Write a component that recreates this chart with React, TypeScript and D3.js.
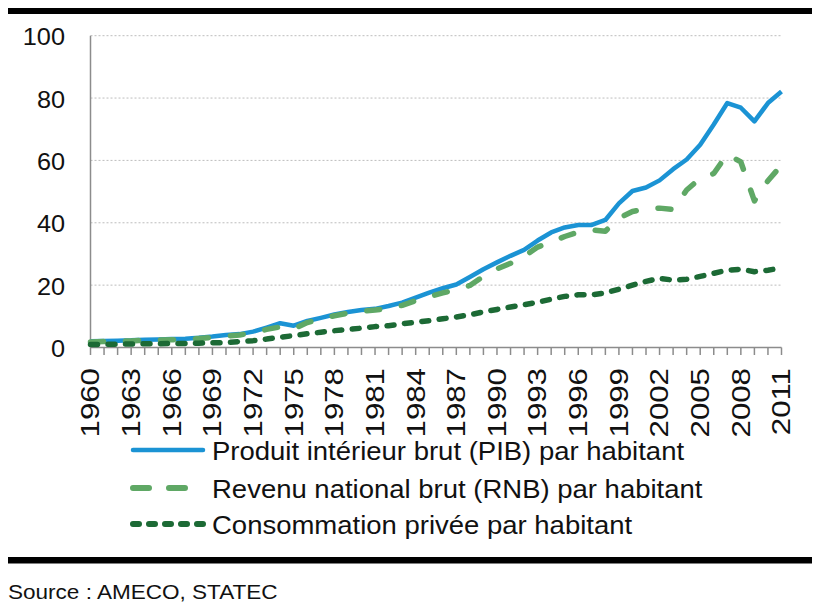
import * as d3 from "d3";

const W = 820;
const H = 612;

// one point per year, 1960-2011
const YEARS = d3.range(1960, 2012);

const PIB = [
  2.0, 2.1, 2.2, 2.3, 2.5, 2.6, 2.7, 2.8, 3.1, 3.5,
  4.0, 4.3, 5.1, 6.4, 7.8, 7.0, 8.5, 9.5, 10.6, 11.4,
  12.0, 12.4, 13.3, 14.4, 16.0, 17.6, 19.0, 20.2, 22.6, 25.1,
  27.3, 29.4, 31.3, 34.3, 36.9, 38.5, 39.3, 39.3, 40.9, 46.2,
  50.2, 51.3, 53.6, 57.2, 60.3, 65.0, 71.5, 78.4, 76.9, 72.5,
  78.4, 82.1,
];

const RNB = [
  1.8, 1.9, 2.0, 2.1, 2.3, 2.4, 2.5, 2.6, 2.9, 3.2,
  3.7, 4.0, 4.8, 5.8, 6.6, 6.0, 8.0, 9.2, 10.2, 11.0,
  11.6, 12.0, 12.6, 13.5, 15.0, 16.3, 17.5, 18.6, 19.9, 22.8,
  25.2, 27.0, 29.2, 32.2, 33.8, 35.6, 37.0, 37.7, 37.3, 41.5,
  43.6, 44.5, 44.7, 44.3, 50.5, 54.3, 55.8, 62.0, 59.5, 47.0,
  53.5, 58.5,
];

const CONSO = [
  1.0, 1.0, 1.1, 1.1, 1.2, 1.2, 1.3, 1.3, 1.4, 1.5,
  1.6, 1.9, 2.2, 2.7, 3.3, 3.8, 4.4, 4.9, 5.4, 5.8,
  6.2, 6.7, 7.0, 7.6, 8.1, 8.6, 9.2, 9.8, 10.5, 11.4,
  12.2, 13.0, 13.7, 14.5, 15.5, 16.4, 16.9, 16.9, 17.5, 18.7,
  20.0, 21.2, 22.2, 21.6, 21.9, 22.8, 23.8, 24.8, 25.1, 24.3,
  24.8, 25.5,
];

const Y_TICKS = [0, 20, 40, 60, 80, 100];
const X_LABELS = [1960, 1963, 1966, 1969, 1972, 1975, 1978, 1981, 1984, 1987, 1990, 1993, 1996, 1999, 2002, 2005, 2008, 2011];

const SERIES = [
  {
    key: "pib",
    label: "Produit intérieur brut (PIB) par habitant",
    values: PIB,
    color: "#1b93d4",
    width: 4.5,
    dash: null,
    legendDash: null,
  },
  {
    key: "rnb",
    label: "Revenu national brut (RNB) par habitant",
    values: RNB,
    color: "#5fa865",
    width: 5.5,
    dash: "13,22",
    legendDash: "16,20",
  },
  {
    key: "conso",
    label: "Consommation privée par habitant",
    values: CONSO,
    color: "#1c6a35",
    width: 5.5,
    dash: "7,10.5",
    legendDash: "6,10",
  },
];

const FONT = "'Liberation Sans', Arial, sans-serif";

export default function App() {
  const x = d3.scaleLinear().domain([1960, 2011]).range([90.5, 781.5]);
  const y = d3.scaleLinear().domain([0, 100]).range([347.5, 35.7]);
  const axisColor = "#8c8c8c";

  const line = d3
    .line<number>()
    .x((_, i) => x(YEARS[i]))
    .y((d) => y(d));

  const legendY = [450, 488, 524];

  return (
    <div style={{ position: "absolute", left: 0, top: 0 }}>
      <svg width={W} height={H} style={{ display: "block", background: "#fff" }} fontFamily={FONT}>
        {/* top and bottom frame bars */}
        <rect x={8} y={8} width={804} height={6} fill="#000" />
        <rect x={8} y={557} width={804} height={6.5} fill="#000" />

        {/* gridlines */}
        {Y_TICKS.filter((t) => t > 0).map((t) => (
          <line
            key={t}
            x1={x(1960)}
            x2={x(2011)}
            y1={y(t)}
            y2={y(t)}
            stroke="#bdbdbd"
            strokeWidth={1}
            strokeDasharray="2,2"
          />
        ))}

        {/* y axis */}
        <line x1={x(1960)} x2={x(1960)} y1={y(100)} y2={y(0)} stroke={axisColor} strokeWidth={1.5} />
        {Y_TICKS.map((t) => (
          <g key={t} transform={`translate(65,${y(t) + 1.5}) scale(1.1,1)`}>
            <text textAnchor="end" dominantBaseline="central" fontSize={23} fill="#111">
              {t}
            </text>
          </g>
        ))}

        {/* x axis */}
        <line x1={x(1960)} x2={x(2011)} y1={y(0)} y2={y(0)} stroke={axisColor} strokeWidth={1.5} />
        {YEARS.map((yr) => (
          <line
            key={yr}
            x1={x(yr)}
            x2={x(yr)}
            y1={y(0)}
            y2={y(0) + 7.5}
            stroke={axisColor}
            strokeWidth={1.5}
          />
        ))}
        {X_LABELS.map((yr) => (
          <text
            key={yr}
            transform={`translate(${x(yr)},368) rotate(-90) scale(1.25,1)`}
            textAnchor="end"
            dominantBaseline="central"
            fontSize={25}
            fill="#111"
          >
            {yr}
          </text>
        ))}

        {/* series */}
        {SERIES.map((s) => (
          <path
            key={s.key}
            d={line(s.values) || ""}
            fill="none"
            stroke={s.color}
            strokeWidth={s.width}
            strokeDasharray={s.dash || undefined}
            strokeLinecap={s.dash ? "round" : "butt"}
            strokeLinejoin="round"
          />
        ))}

        {/* legend */}
        {SERIES.map((s, i) => (
          <g key={s.key}>
            <line
              x1={133}
              x2={s.key === "rnb" ? 185 : 203}
              y1={legendY[i]}
              y2={legendY[i]}
              stroke={s.color}
              strokeWidth={s.dash ? 6 : 4.5}
              strokeDasharray={s.legendDash || undefined}
              strokeLinecap="round"
            />
            <g transform={`translate(212,${legendY[i] + 1}) scale(1.1,1)`}>
              <text dominantBaseline="central" fontSize={25} fill="#111">
                {s.label}
              </text>
            </g>
          </g>
        ))}

        {/* source */}
        <g transform="translate(8,592) scale(1.1,1)">
          <text dominantBaseline="central" fontSize={20.5} fill="#111">
            Source : AMECO, STATEC
          </text>
        </g>
      </svg>
    </div>
  );
}
